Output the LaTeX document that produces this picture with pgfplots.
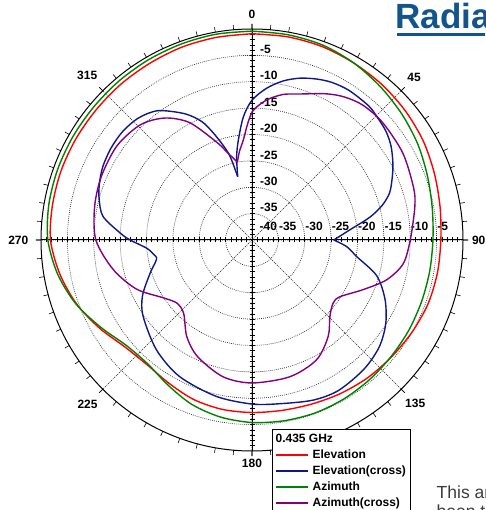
\documentclass[border=0pt]{standalone}
\usepackage{fontspec}
\setmainfont{Liberation Sans}
\usepackage{pgfplots}
\pgfplotsset{compat=1.18}
\usepackage{pgfplotstable}
\usepgfplotslibrary{polar}

\definecolor{cRed}{RGB}{255,0,0}
\definecolor{cBlue}{RGB}{16,24,135}
\definecolor{cGreen}{RGB}{0,130,0}
\definecolor{cPurple}{RGB}{128,0,128}
\definecolor{cTitle}{RGB}{18,84,140}
\definecolor{cText}{RGB}{60,60,60}
\newcommand{\labfont}{\fontsize{12}{14}\selectfont\bfseries}

% Elevation
\pgfplotstableread{
ang db
0 -0.9
10 -0.9
20 -1.0
30 -1.3
40 -1.6
50 -2.0
60 -2.5
70 -3.2
80 -3.8
90 -4.2
100 -4.3
110 -4.5
120 -5.0
130 -5.5
140 -5.9
150 -6.4
160 -6.9
170 -7.2
180 -7.3
190 -7.4
200 -7.8
210 -8.6
220 -9.1
230 -8.5
240 -6.6
250 -4.6
260 -3.0
270 -1.8
280 -1.6
290 -1.5
300 -1.5
310 -1.5
320 -1.4
330 -1.3
340 -1.1
350 -1.0
360 -0.9
}\tabRed

% Azimuth
\pgfplotstableread{
ang db
0 -0.4
10 -0.5
20 -0.7
30 -1.3
40 -2.1
50 -2.9
60 -3.7
70 -4.6
80 -5.3
90 -5.7
100 -5.8
110 -5.8
120 -5.7
130 -5.6
140 -5.4
150 -5.2
160 -5.1
170 -5.2
180 -5.4
190 -5.9
200 -6.8
210 -8.2
220 -9.3
230 -8.9
240 -6.9
250 -4.5
260 -2.6
270 -1.3
280 -0.9
290 -0.8
300 -0.8
310 -0.8
320 -0.7
330 -0.6
340 -0.5
350 -0.4
360 -0.4
}\tabGreen

% Elevation(cross), lobe from null at 347 deg to null at 90 deg
\pgfplotstableread{
ang db
347.3 -27.7
349.5 -24.0
352.2 -20.9
356 -16.6
360 -13.5
365.5 -11.1
371 -9.3
376.5 -8.0
382 -7.1
387 -6.5
393 -6.2
401 -6.3
406 -6.8
411 -7.3
416 -8.2
421.5 -9.6
426 -10.9
431 -12.4
435 -14.4
439 -17.2
444 -21.3
450 -24.5
}\tabBlueA

% Elevation(cross), from null at 90 deg round to null at 347 deg
\pgfplotstableread{
ang db
90 -24.5
94 -22.0
99 -19.9
106 -15.4
114 -12.4
122 -10.1
130 -8.5
139 -7.6
150 -7.1
159 -7.5
170 -8.5
180 -8.9
193 -9.6
208 -10.7
221 -12.4
235 -14.8
243 -16.7
252 -19.7
257 -21.2
259.5 -21.6
262 -21.1
265.5 -20.0
270 -16.9
273 -15.0
279 -11.4
285 -10.0
290 -9.2
296 -8.5
303 -8.1
310 -8.0
317 -8.4
324 -9.7
332 -12.9
337 -15.6
340 -18.3
343 -21.2
345.3 -23.6
347.3 -27.7
}\tabBlueB

% Azimuth(cross)
\pgfplotstableread{
ang db
349.3 -25.0
352 -23.0
355 -21.0
358 -17.8
360.6 -15.4
366 -13.3
372 -11.8
378 -10.9
387 -8.9
393 -7.7
399.5 -6.9
408 -6.7
420 -7.0
432 -7.8
438.5 -8.5
450 -10.0
459 -11.0
466.5 -13.4
474 -16.9
483 -20.2
488 -20.5
494.5 -19.3
501.7 -16.7
511.7 -14.2
524.5 -13.1
540 -12.9
552 -13.5
565 -15.6
574 -17.9
583 -21.0
590 -21.4
597 -19.9
607 -16.2
618 -13.1
630 -10.4
642 -9.5
653 -9.0
665 -8.8
676 -9.6
684.5 -11.6
692 -14.8
700 -20.2
704 -22.6
709.3 -25.0
}\tabPurple

\begin{document}
\begin{tikzpicture}[x=1pt,y=1pt]
\useasboundingbox (0,0) rectangle (485,510);
\clip (0,0) rectangle (485,510);

% title and side text (cut by the page edge as in the source)
\node[anchor=base west, inner sep=0pt, text=cTitle, font=\fontsize{35}{40}\selectfont\bfseries] at (395.5,481.7) {Radiation Pattern};
\fill[cTitle] (397,474) rectangle (490,476.8);
\node[anchor=base west, inner sep=0pt, text=cText, font=\fontsize{17.5}{20}\selectfont] at (436.5,11) {This antenna};
\node[anchor=base west, inner sep=0pt, text=cText, font=\fontsize{17.5}{20}\selectfont] at (436.5,-7.5) {been tested};

\begin{polaraxis}[
  at={(252pt,270pt)}, anchor=center,
  scale only axis, width=422pt, height=422pt,
  xmin=0, xmax=360, ymin=0, ymax=40,
  xtick={0,45,...,315}, xticklabels={},
  minor xtick={0,5,...,355},
  ytick={5,10,...,35}, yticklabels={},
  xmajorgrids=true, ymajorgrids=true,
  major x grid style={black!85, dash pattern=on 1.2pt off 1pt, line width=0.55pt},
  major y grid style={black!80, dash pattern=on 0.8pt off 1.2pt, line width=0.7pt},
  tick align=inside, major tick length=5pt, minor tick length=5pt,
  xtick style={black, line width=0.6pt},
  ytick style={draw=none},
  axis line style={black, line width=1pt},
  clip=false,
  legend cell align=left,
  legend image code/.code={\draw[#1] (0pt,0pt) -- (32pt,0pt);},
  legend style={
    at={(0.5467,0.0514)}, anchor=north west,
    draw=black, line width=0.8pt, fill=white,
    font=\labfont,
    inner xsep=3pt, inner ysep=3pt,
    column sep=3pt, row sep=3pt,
    nodes={inner xsep=1pt, inner ysep=0.5pt, text height=9pt, text depth=3pt},
  },
]

% radial axes with 1 dB ticks
\draw[black, line width=1pt] (axis cs:0,40) -- (axis cs:180,40);
\draw[black, line width=1pt] (axis cs:90,40) -- (axis cs:270,40);
\pgfplotsinvokeforeach{1,...,39}{
  \draw[line width=0.6pt] (axis cs:0,#1) ++(0pt,-2.5pt) -- ++(0pt,5pt);
  \draw[line width=0.6pt] (axis cs:180,#1) ++(0pt,-2.5pt) -- ++(0pt,5pt);
  \draw[line width=0.6pt] (axis cs:90,#1) ++(-2.5pt,0pt) -- ++(5pt,0pt);
  \draw[line width=0.6pt] (axis cs:270,#1) ++(-2.5pt,0pt) -- ++(5pt,0pt);
}

% radial labels
\node[anchor=west, inner sep=0pt, font=\labfont, xshift=7.5pt, yshift=13.5pt] at (axis cs:0,0) {-40};
\pgfplotsinvokeforeach{5,10,...,35}{
  \node[anchor=west, inner sep=0pt, font=\labfont, xshift=0.5pt, yshift=13.5pt] at (axis cs:0,#1) {\pgfmathparse{int(#1-40)}\pgfmathresult};
  \node[anchor=west, inner sep=0pt, font=\labfont, xshift=8pt, yshift=6pt] at (axis cs:90,#1) {\pgfmathparse{int(#1-40)}\pgfmathresult};
}

% angle labels (compass angles, clockwise from top)
\node[font=\labfont, inner sep=0pt] at (axis cs:90,42.8) {0};
\node[font=\labfont, inner sep=0pt] at (axis cs:45,43.47) {45};
\node[font=\labfont, inner sep=0pt] at (axis cs:0,42.98) {90};
\node[font=\labfont, inner sep=0pt] at (axis cs:315,43.75) {135};
\node[font=\labfont, inner sep=0pt] at (axis cs:270,42.33) {180};
\node[font=\labfont, inner sep=0pt] at (axis cs:225,44.08) {225};
\node[font=\labfont, inner sep=0pt] at (axis cs:180,44.3) {270};
\node[font=\labfont, inner sep=0pt] at (axis cs:135,44.17) {315};

% data (compass angle -> polar angle, dB -> radius above -40 dB)
\addplot[cRed, line width=1.4pt, smooth, forget plot] table[x expr=90-\thisrow{ang}, y expr=\thisrow{db}+40] {\tabRed};
\addplot[cBlue, line width=1.4pt, smooth, forget plot] table[x expr=90-\thisrow{ang}, y expr=\thisrow{db}+40] {\tabBlueA};
\addplot[cBlue, line width=1.4pt, smooth, forget plot] table[x expr=90-\thisrow{ang}, y expr=\thisrow{db}+40] {\tabBlueB};
\addplot[cGreen, line width=1.4pt, smooth, forget plot] table[x expr=90-\thisrow{ang}, y expr=\thisrow{db}+40] {\tabGreen};
\addplot[cPurple, line width=1.4pt, smooth, forget plot] table[x expr=90-\thisrow{ang}, y expr=\thisrow{db}+40] {\tabPurple};

\addlegendimage{empty legend}
\addlegendentry{\hspace*{-37pt}0.435 GHz}
\addlegendimage{cRed, line width=1.5pt}
\addlegendentry{Elevation}
\addlegendimage{cBlue, line width=1.5pt}
\addlegendentry{Elevation(cross)}
\addlegendimage{cGreen, line width=1.5pt}
\addlegendentry{Azimuth}
\addlegendimage{cPurple, line width=1.5pt}
\addlegendentry{Azimuth(cross)}
\end{polaraxis}
\end{tikzpicture}
\end{document}
